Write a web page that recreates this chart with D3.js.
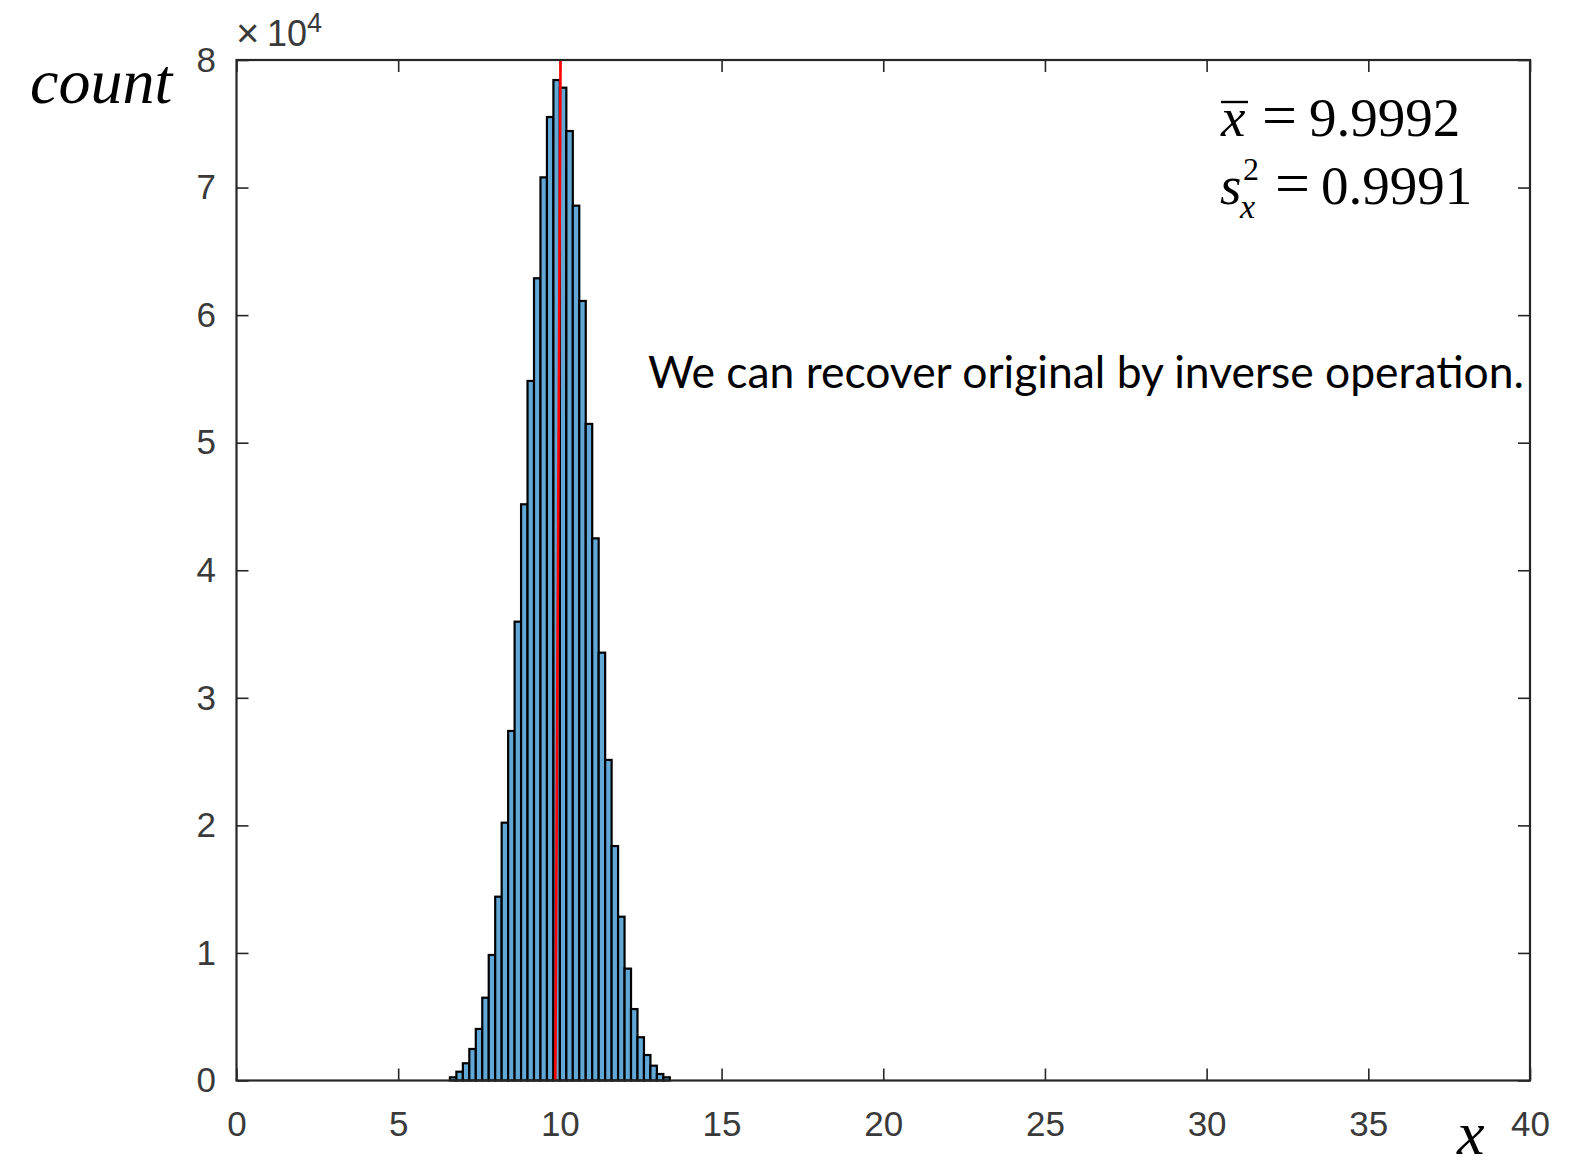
<!DOCTYPE html>
<html>
<head>
<meta charset="utf-8">
<script src="https://cdn.jsdelivr.net/npm/d3@7"></script>
<style>
  body { margin: 0; background: #fff; }
  svg { display: block; }
</style>
</head>
<body>
<svg id="chart" width="1574" height="1167"></svg>
<script>
// Data
const binEdges = [6.6, 6.8, 7.0, 7.2, 7.4, 7.6, 7.8, 8.0, 8.2, 8.4, 8.6, 8.8, 9.0, 9.2, 9.4, 9.6, 9.8,
  10.0, 10.2, 10.4, 10.6, 10.8, 11.0, 11.2, 11.4, 11.6, 11.8, 12.0, 12.2, 12.4, 12.6, 12.8, 13.0, 13.2, 13.4];
const counts = [250, 690, 1350, 2470, 4040, 6490, 9840, 14410, 20210, 27400, 35970, 45170, 54840, 62890,
  70800, 75530, 78430, 77830, 74430, 68580, 61110, 51470, 42500, 33540, 25130, 18380, 12840, 8770,
  5600, 3390, 2000, 1160, 510, 250];
// red mean marker, as drawn (slightly slanted in the source image)
const meanLine = [{ x: 10.02, y: 80000 }, { x: 9.86, y: 0 }];

const xTicks = [0, 5, 10, 15, 20, 25, 30, 35, 40];
const yTicks = [0, 10000, 20000, 30000, 40000, 50000, 60000, 70000, 80000];
const yTickLabels = ['0', '1', '2', '3', '4', '5', '6', '7', '8'];

const meanValue = '9.9992';
const varValue = '0.9991';
const note = 'We can recover original by inverse operation.';

// Layout
const plot = { left: 236.5, top: 60, right: 1530, bottom: 1080.5 };
const AXIS_COL = '#262626';
const BAR_FILL = 'rgb(98,168,214)';

const svg = d3.select('#chart');
svg.append('rect').attr('width', 1574).attr('height', 1167).attr('fill', '#fff');

const x = d3.scaleLinear().domain([0, 40]).range([plot.left, plot.right]);
const y = d3.scaleLinear().domain([0, 80000]).range([plot.bottom, plot.top]);

const styleAxis = g => {
  g.select('.domain').remove();
  g.selectAll('.tick line').attr('stroke', AXIS_COL).attr('stroke-width', 1.6);
  g.selectAll('.tick text')
    .attr('fill', '#3a3a3a')
    .attr('font-family', '"Liberation Sans", Arial, sans-serif')
    .attr('font-size', 35);
};

// ticks first, so bars cover them like in the original
svg.append('g')
  .attr('transform', `translate(0,${plot.bottom})`)
  .call(d3.axisBottom(x).tickValues(xTicks).tickSize(-12).tickPadding(31))
  .call(styleAxis);

svg.append('g')
  .attr('transform', `translate(${plot.left},0)`)
  .call(d3.axisLeft(y).tickValues(yTicks).tickFormat((d, i) => yTickLabels[i]).tickSize(-12).tickPadding(20.5))
  .call(styleAxis);

svg.append('g')
  .attr('transform', `translate(0,${plot.top})`)
  .call(d3.axisTop(x).tickValues(xTicks).tickSize(-12).tickFormat(''))
  .call(styleAxis);

svg.append('g')
  .attr('transform', `translate(${plot.right},0)`)
  .call(d3.axisRight(y).tickValues(yTicks).tickSize(-12).tickFormat(''))
  .call(styleAxis);

// Histogram bars
svg.append('g')
  .selectAll('rect')
  .data(counts)
  .join('rect')
  .attr('x', (d, i) => x(binEdges[i]))
  .attr('width', (d, i) => x(binEdges[i + 1]) - x(binEdges[i]))
  .attr('y', d => y(d))
  .attr('height', d => y(0) - y(d))
  .attr('fill', BAR_FILL)
  .attr('stroke', '#000')
  .attr('stroke-width', 2.2);

// Mean line
svg.append('path')
  .datum(meanLine)
  .attr('d', d3.line().x(d => x(d.x)).y(d => y(d.y)))
  .attr('stroke', '#ff0000')
  .attr('stroke-width', 2.6)
  .attr('fill', 'none');

// Box
svg.append('rect')
  .attr('x', plot.left).attr('y', plot.top)
  .attr('width', plot.right - plot.left).attr('height', plot.bottom - plot.top)
  .attr('fill', 'none').attr('stroke', AXIS_COL).attr('stroke-width', 2.2);

// x10^4 exponent label
const expo = svg.append('text')
  .attr('font-family', '"Liberation Sans", Arial, sans-serif')
  .attr('fill', '#3a3a3a');
expo.append('tspan').attr('x', 236).attr('y', 47).attr('font-size', 40).text('\u00d7');
expo.append('tspan').attr('x', 267).attr('y', 46).attr('font-size', 36).text('10');
expo.append('tspan').attr('x', 307).attr('y', 32).attr('font-size', 27).text('4');

// Axis titles
const serif = '"Liberation Serif", "Times New Roman", serif';
svg.append('text')
  .attr('x', 30).attr('y', 103)
  .attr('font-family', serif).attr('font-style', 'italic').attr('font-size', 64)
  .text('count');
svg.append('text')
  .attr('x', 1457).attr('y', 1154)
  .attr('font-family', serif).attr('font-style', 'italic').attr('font-size', 62)
  .text('x');

// Stats
const st = svg.append('g').attr('font-family', serif).attr('font-size', 55).attr('fill', '#000');
st.append('text').attr('x', 1221).attr('y', 135.5).attr('font-style', 'italic').text('x');
st.append('line').attr('x1', 1221).attr('x2', 1248).attr('y1', 102).attr('y2', 102)
  .attr('stroke', '#000').attr('stroke-width', 2.4);
st.append('text').attr('x', 1262).attr('y', 135.5).attr('font-size', 62).text('=');
st.append('text').attr('x', 1309).attr('y', 135.5).text(meanValue);

st.append('text').attr('x', 1220).attr('y', 204).attr('font-style', 'italic').text('s');
st.append('text').attr('x', 1243).attr('y', 180).attr('font-size', 32).text('2');
st.append('text').attr('x', 1240).attr('y', 218).attr('font-size', 34).attr('font-style', 'italic').text('x');
st.append('text').attr('x', 1275).attr('y', 204).attr('font-size', 62).text('=');
st.append('text').attr('x', 1321).attr('y', 204).text(varValue);

// Note
svg.append('text')
  .attr('x', 648).attr('y', 388)
  .attr('font-family', 'Lato, "Open Sans", sans-serif')
  .attr('font-size', 44)
  .attr('textLength', 876)
  .attr('lengthAdjust', 'spacingAndGlyphs')
  .text(note);
</script>
</body>
</html>
